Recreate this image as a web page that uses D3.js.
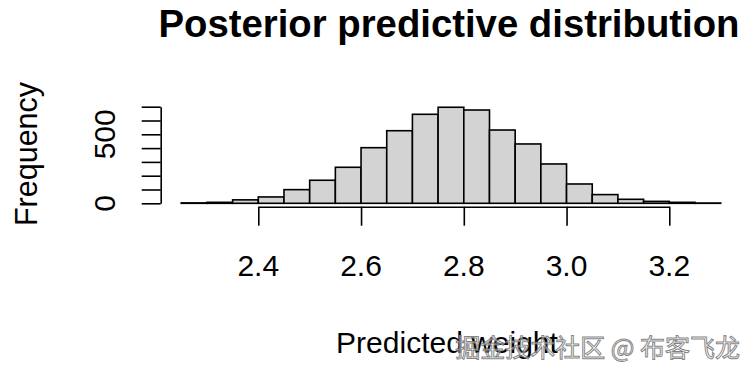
<!DOCTYPE html>
<html>
<head>
<meta charset="utf-8">
<script src="https://cdn.jsdelivr.net/npm/d3@7"></script>
<style>
  html, body { margin: 0; padding: 0; background: #fff; }
  svg { display: block; }
</style>
</head>
<body>
<svg id="chart" width="756" height="375"></svg>
<script>
// ---- data ----
const binStarts = [2.25, 2.30, 2.35, 2.40, 2.45, 2.50, 2.55, 2.60, 2.65, 2.70, 2.75,
                   2.80, 2.85, 2.90, 2.95, 3.00, 3.05, 3.10, 3.15, 3.20, 3.25];
const binWidth = 0.05;
const counts = [3, 7, 25, 46, 99, 167, 261, 403, 526, 645, 696,
                676, 531, 430, 285, 140, 63, 29, 14, 7, 2];
const xTicks = [2.4, 2.6, 2.8, 3.0, 3.2];
const xTickLabels = ["2.4", "2.6", "2.8", "3.0", "3.2"];
const yTicks = [0, 100, 200, 300, 400, 500, 600, 700];
const yTickLabels = { 0: "0", 500: "500" };
const title = "Posterior predictive distribution";
const xLabel = "Predicted weight";
const yLabel = "Frequency";
const watermark = "掘金技术社区 @ 布客飞龙";

// ---- layout ----
const font = "'Liberation Sans', Arial, Helvetica, sans-serif";
const svg = d3.select("#chart");

const x = d3.scaleLinear().domain([2.4, 3.2]).range([258.3, 669.3]);
const y = d3.scaleLinear().domain([0, 700]).range([203.3, 106.7]);

// bars
svg.append("g").selectAll("rect")
  .data(binStarts.map((s, i) => ({ s, c: counts[i] })))
  .join("rect")
  .attr("x", d => x(d.s))
  .attr("width", d => x(d.s + binWidth) - x(d.s))
  .attr("y", d => y(d.c))
  .attr("height", d => y(0) - y(d.c))
  .attr("fill", "#d3d3d3")
  .attr("stroke", "#000")
  .attr("stroke-width", 1.6);

// x axis
const xAxisY = 206.7;
const gx = svg.append("g")
  .attr("transform", `translate(0,${xAxisY})`)
  .call(d3.axisBottom(x).tickValues(xTicks).tickSize(19).tickSizeOuter(0).tickFormat(""));
gx.select(".domain").attr("stroke", "#000").attr("stroke-width", 1.6);
gx.selectAll(".tick line").attr("stroke", "#000").attr("stroke-width", 1.6);
svg.append("g").selectAll("text")
  .data(xTicks)
  .join("text")
  .attr("x", d => x(d))
  .attr("y", 276)
  .attr("text-anchor", "middle")
  .attr("font-family", font)
  .attr("font-size", 30)
  .attr("fill", "#000")
  .text((d, i) => xTickLabels[i]);

// y axis
const yAxisX = 160.7;
const gy = svg.append("g")
  .attr("transform", `translate(${yAxisX},0)`)
  .call(d3.axisLeft(y).tickValues(yTicks).tickSize(19).tickSizeOuter(0).tickFormat(""));
gy.select(".domain").attr("stroke", "#000").attr("stroke-width", 1.6);
gy.selectAll(".tick line").attr("stroke", "#000").attr("stroke-width", 1.6);
svg.append("g").selectAll("text")
  .data(yTicks.filter(t => yTickLabels[t] !== undefined))
  .join("text")
  .attr("transform", d => `translate(115,${y(d)}) rotate(-90)`)
  .attr("text-anchor", "middle")
  .attr("font-family", font)
  .attr("font-size", 30)
  .attr("fill", "#000")
  .text(d => yTickLabels[d]);

// title
svg.append("text")
  .attr("x", 449)
  .attr("y", 37)
  .attr("text-anchor", "middle")
  .attr("font-family", font)
  .attr("font-weight", "bold")
  .attr("font-size", 38.3)
  .attr("fill", "#000")
  .text(title);

// x label
svg.append("text")
  .attr("x", 447)
  .attr("y", 353)
  .attr("text-anchor", "middle")
  .attr("font-family", font)
  .attr("font-size", 30)
  .attr("fill", "#000")
  .text(xLabel);

// y label
svg.append("text")
  .attr("transform", "translate(37,154) rotate(-90)")
  .attr("text-anchor", "middle")
  .attr("font-family", font)
  .attr("font-size", 30.5)
  .attr("fill", "#000")
  .text(yLabel);

// watermark (overlaps the x label, as in the reference)
svg.append("text")
  .attr("x", 740)
  .attr("y", 357)
  .attr("text-anchor", "end")
  .attr("font-family", "'Noto Sans CJK SC', sans-serif")
  .attr("font-size", 25)
  .attr("fill", "rgba(255,255,255,0.55)")
  .attr("stroke", "rgba(110,110,110,0.85)")
  .attr("stroke-width", 1)
  .text(watermark);
</script>
</body>
</html>
